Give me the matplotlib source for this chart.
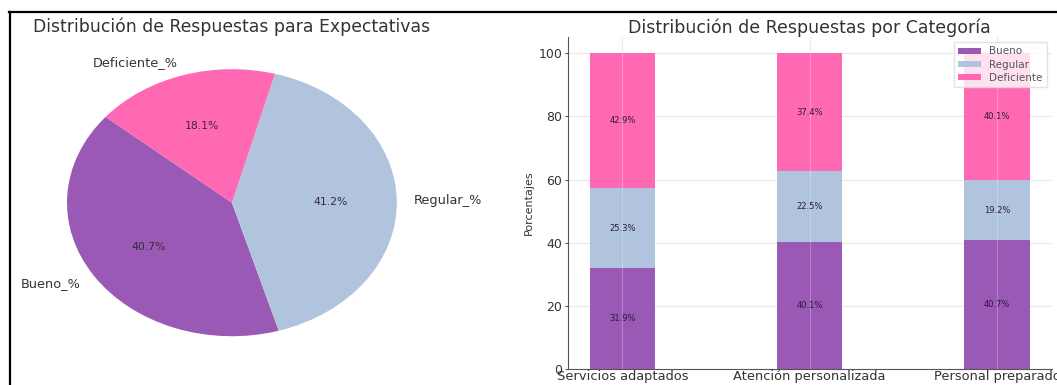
import matplotlib.pyplot as plt
import numpy as np
from matplotlib.lines import Line2D

# pie data
pie_labels = ['Bueno_%', 'Regular_%', 'Deficiente_%']
pie_values = [40.7, 41.2, 18.1]

# stacked bar data
categories = ['Servicios adaptados', 'Atención personalizada', 'Personal preparado']
bueno = [31.9, 40.1, 40.7]
regular = [25.3, 22.5, 19.2]
deficiente = [42.9, 37.4, 40.1]

colors = ['#9b59b6', '#b0c4de', '#ff69b4']
text_col = '#333333'

fig = plt.figure(figsize=(10.57, 3.85), dpi=100)

# left: pie
ax1 = fig.add_axes([0.0244, 0.040, 0.390, 0.867])
wedges, texts, autotexts = ax1.pie(pie_values, labels=pie_labels, colors=colors,
                                   autopct='%1.1f%%', startangle=140,
                                   textprops={'fontsize': 9.3, 'color': text_col})
for t in autotexts:
    t.set_fontsize(7.8)
    t.set_color('#3a2a3a')
ax1.set_aspect('auto')
ax1.set_xlim(-1.25, 1.25)
ax1.set_ylim(-1.25, 1.25)
ax1.set_title('Distribución de Respuestas para Expectativas', fontsize=12.4,
              color=text_col, pad=3)

# right: stacked bars
ax2 = fig.add_axes([0.537, 0.0416, 0.458, 0.862])
x = np.arange(len(categories))
w = 0.35
b1 = ax2.bar(x, bueno, w, color=colors[0], label='Bueno', zorder=2)
bottom2 = np.array(bueno)
b2 = ax2.bar(x, regular, w, bottom=bottom2, color=colors[1], label='Regular', zorder=2)
bottom3 = bottom2 + np.array(regular)
b3 = ax2.bar(x, deficiente, w, bottom=bottom3, color=colors[2], label='Deficiente', zorder=2)

for bars, vals, bots in [(b1, bueno, np.zeros(3)), (b2, regular, bottom2), (b3, deficiente, bottom3)]:
    for rect, v, b in zip(bars, vals, bots):
        ax2.text(rect.get_x() + rect.get_width() / 2, b + v / 2, f'{v:.1f}%',
                 ha='center', va='center', fontsize=6, color='#2a1a3a', zorder=4)

# faint vertical grid lines over the bars, horizontal grid behind
for xi in x:
    ax2.axvline(xi, color='#ffffff', linewidth=0.8, alpha=0.25, zorder=3)
ax2.set_axisbelow(True)
ax2.grid(True, color='#e8e8e8', linewidth=0.8)

ax2.set_xticks(x)
ax2.set_xticklabels(categories, fontsize=9.4, color=text_col)
ax2.set_yticks([0, 20, 40, 60, 80, 100])
ax2.tick_params(axis='y', labelsize=9, labelcolor=text_col, length=2, pad=2, color='#555555')
ax2.tick_params(axis='x', length=0, pad=1)
ax2.set_ylabel('Porcentajes', fontsize=8, color=text_col, labelpad=3)
ax2.set_title('Distribución de Respuestas por Categoría', fontsize=12.5,
              color=text_col, pad=3)
ax2.spines['top'].set_visible(False)
ax2.spines['right'].set_visible(False)
ax2.spines['left'].set_color('#555555')
ax2.spines['bottom'].set_color('#555555')
leg = ax2.legend(loc='upper right', fontsize=7.5, handlelength=2.2, handleheight=0.55,
                 labelspacing=0.3, borderpad=0.4, framealpha=0.8, edgecolor='#dddddd',
                 fancybox=False, bbox_to_anchor=(1.0, 1.0))
leg.set_zorder(5)
for t in leg.get_texts():
    t.set_color('#555555')

# black frame lines from the screenshot
fig.add_artist(Line2D([0.0085, 1.0], [0.968, 0.968], color='black', linewidth=1.6,
                      transform=fig.transFigure))
fig.add_artist(Line2D([0.0092, 0.0092], [0.0, 0.968], color='black', linewidth=1.6,
                      transform=fig.transFigure))

fig.savefig('out.png', dpi=100)
